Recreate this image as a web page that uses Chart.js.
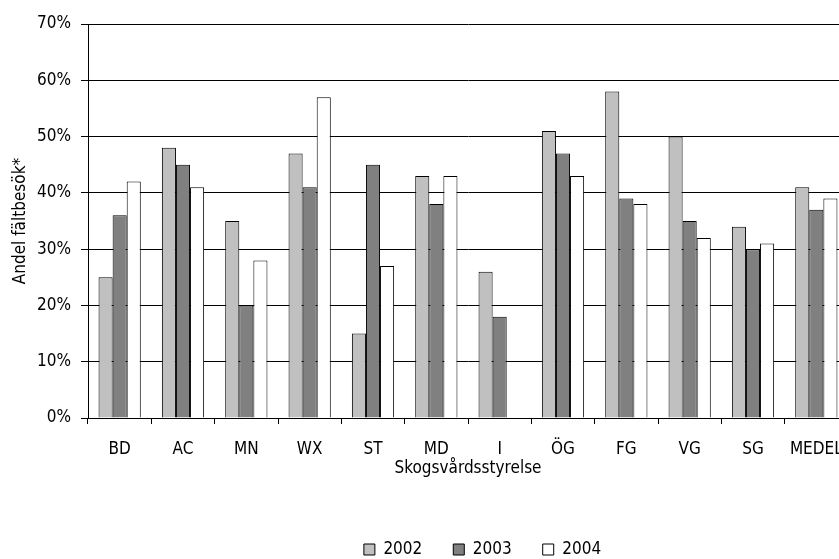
<!DOCTYPE html>
<html>
<head>
<meta charset="utf-8">
<script src="https://cdn.jsdelivr.net/npm/chart.js@4/dist/chart.umd.min.js"></script>
<style>
  html, body { margin: 0; padding: 0; background: #fff; overflow: hidden; }
  #wrap { position: absolute; left: 0; top: 0; width: 965px; height: 559px; }
</style>
</head>
<body>
<div id="wrap"><canvas id="c" width="965" height="559"></canvas></div>
<script>
// Andel fältbesök per skogsvårdsstyrelse, 2002–2004
const categories = ['BD', 'AC', 'MN', 'WX', 'ST', 'MD', 'I', 'ÖG', 'FG', 'VG', 'SG', 'MEDEL'];
const years = ['2002', '2003', '2004'];
const values2002 = [25, 48, 35, 47, 15, 43, 26, 51, 58, 50, 34, 41];
const values2003 = [36, 45, 20, 41, 45, 38, 18, 47, 39, 35, 30, 37];
const values2004 = [42, 41, 28, 57, 27, 43, null, 43, 38, 32, 31, 39];
const yTicks = [0, 10, 20, 30, 40, 50, 60, 70];

const FONT = "'DejaVu Sans Condensed', 'DejaVu Sans', sans-serif";
const fills = ['#c0c0c0', '#808080', '#ffffff'];

Chart.defaults.font.family = FONT;
Chart.defaults.font.size = 17;
Chart.defaults.color = '#000';

const seriesValues = [values2002, values2003, values2004];

new Chart(document.getElementById('c'), {
  type: 'bar',
  data: {
    labels: categories,
    datasets: years.map((y, i) => ({
      label: y,
      data: seriesValues[i],
      backgroundColor: fills[i],
      borderColor: '#000',
      borderWidth: 1,
      borderSkipped: 'bottom',
      categoryPercentage: 0.667,
      barPercentage: 1.0
    }))
  },
  options: {
    responsive: false,
    animation: false,
    devicePixelRatio: 1,
    layout: { padding: { top: 24, left: 0, right: 0, bottom: 0 } },
    plugins: {
      tooltip: { enabled: false },
      legend: {
        position: 'bottom',
        maxHeight: 49,
        labels: {
          boxWidth: 11,
          boxHeight: 11,
          padding: 31,
          font: { size: 17 },
          color: '#000',
          generateLabels(chart) {
            return chart.data.datasets.map((ds, i) => ({
              text: ds.label,
              fillStyle: ds.backgroundColor,
              strokeStyle: '#000',
              lineWidth: 1,
              datasetIndex: i,
              hidden: false
            }));
          }
        }
      }
    },
    scales: {
      x: {
        offset: true,
        grid: {
          offset: true,
          drawOnChartArea: false,
          drawTicks: true,
          tickLength: 6,
          color: '#000'
        },
        border: { display: true, color: '#000', width: 1 },
        ticks: { padding: 15, color: '#000', font: { size: 17 }, maxRotation: 0, autoSkip: false },
        title: {
          display: true,
          text: 'Skogsvårdsstyrelse',
          color: '#000',
          font: { size: 17 },
          padding: { top: 4, bottom: 31 }
        },
        afterFit(scale) { scale.height = 92; }
      },
      y: {
        min: 0,
        max: 70,
        afterBuildTicks(scale) { scale.ticks = yTicks.map(v => ({ value: v })); },
        grid: {
          color: '#000',
          lineWidth: 1,
          drawTicks: true,
          tickLength: 7
        },
        border: { display: true, color: '#000', width: 1 },
        ticks: {
          padding: 10,
          color: '#000',
          font: { size: 17 },
          callback: v => v + '%'
        },
        title: {
          display: true,
          text: 'Andel fältbesök*',
          color: '#000',
          font: { size: 17 },
          padding: { top: 10, bottom: 0 }
        },
        afterFit(scale) { scale.width = 88; }
      },
      // empty right-hand spacer axis that reserves room beyond the plot
      r: {
        position: 'right',
        display: true,
        min: 0,
        max: 70,
        grid: { display: false, drawTicks: false },
        border: { display: false },
        ticks: { display: false },
        afterFit(scale) { scale.width = 117; }
      }
    }
  }
});
</script>
</body>
</html>
